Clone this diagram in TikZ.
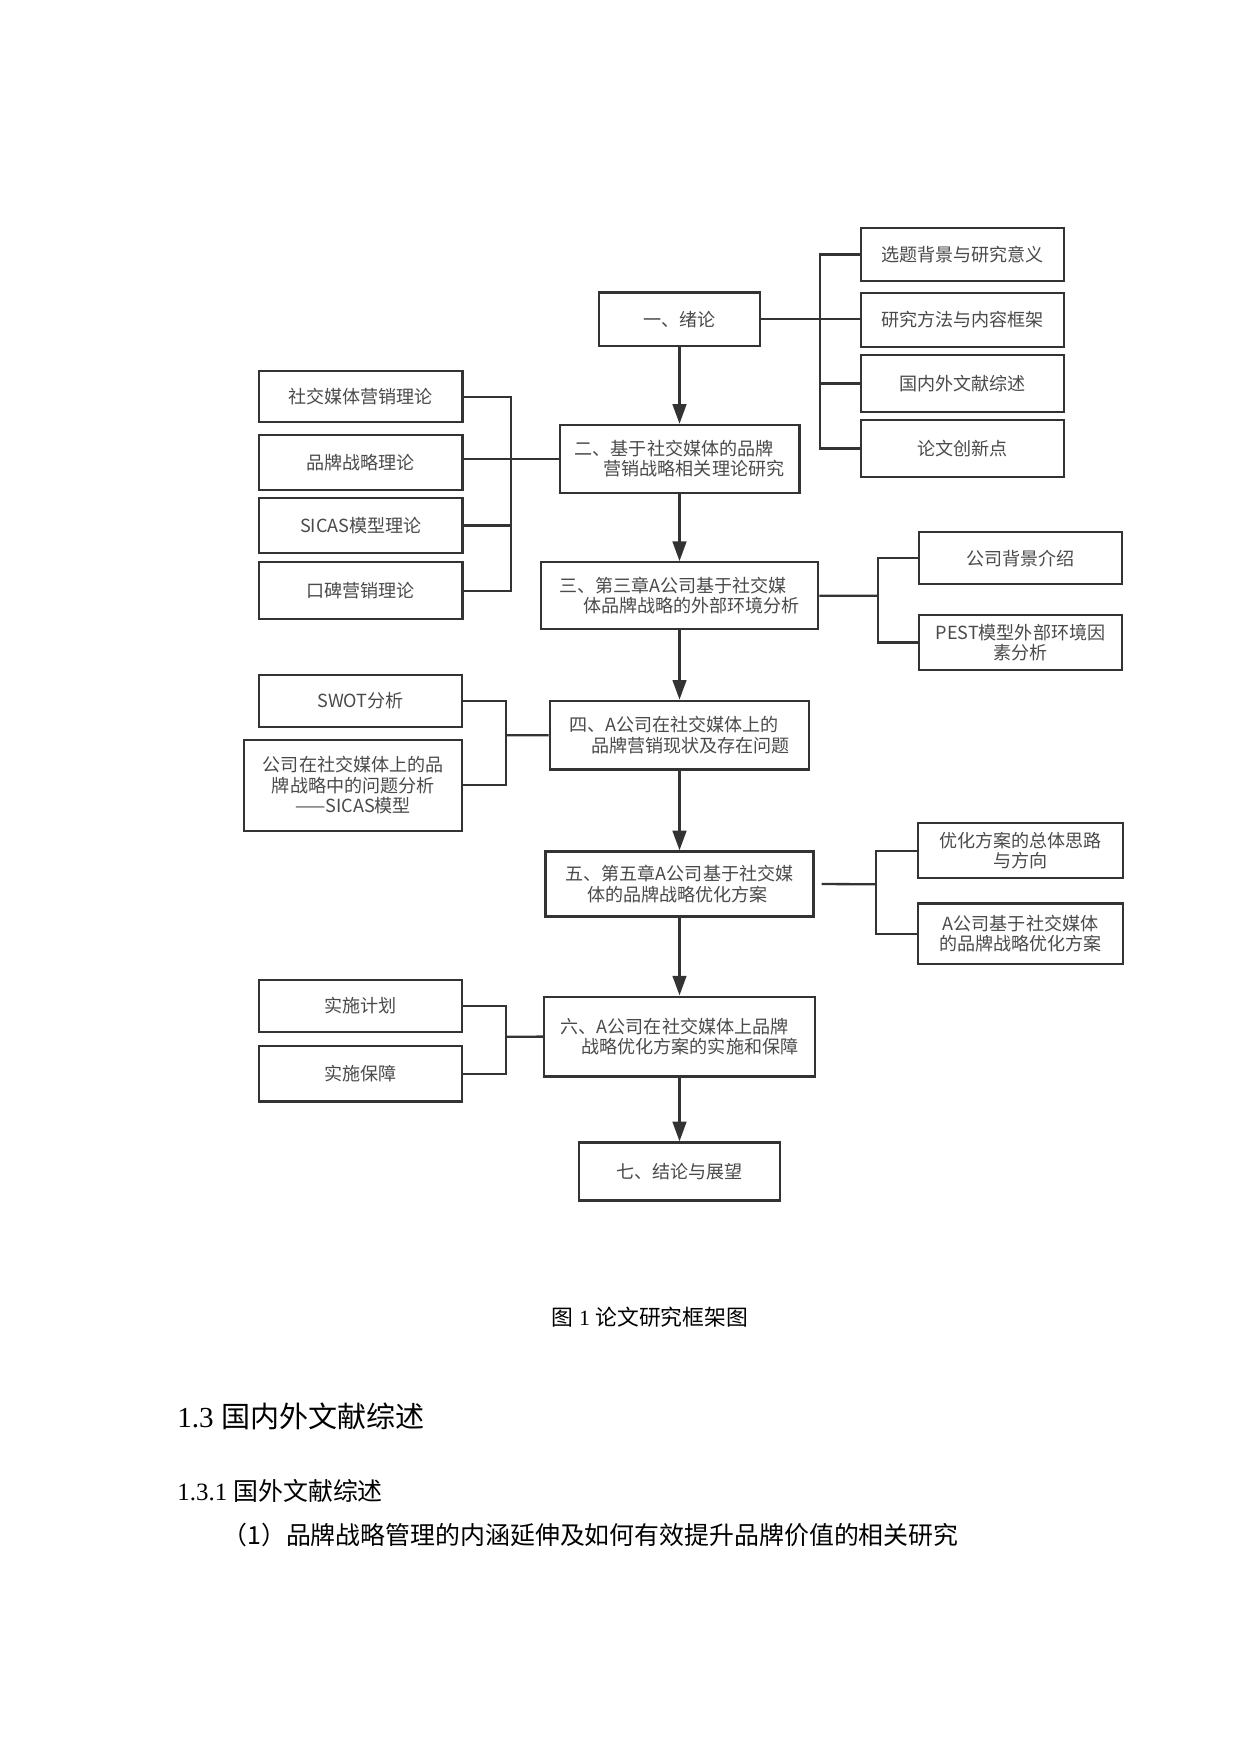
\documentclass[tikz,border=0pt]{standalone}
\usepackage{fontspec}
\setmainfont{Liberation Serif}
\newfontfamily\cjk{Noto Sans CJK SC}
\usetikzlibrary{arrows.meta}
\definecolor{boxline}{HTML}{333333}
\definecolor{boxtext}{HTML}{4A4A4A}

\begin{document}
\begin{tikzpicture}[x=0.4818pt,y=-0.4818pt,>={Triangle[length=9.5pt,width=6.5pt]},
  main box/.style={draw=boxline,line width=1.1pt,align=left,inner sep=2pt,text=boxtext,font=\cjk\fontsize{8.7pt}{9.8pt}\selectfont},
  side box/.style={main box,align=center,minimum width=97.9pt},
  link/.style={draw=boxline,line width=1.1pt},
  arrow/.style={->,color=boxline,line width=1.4pt}]
    \fill[white] (0,0) rectangle (1240,1754);
    \useasboundingbox (0,0) rectangle (1240,1754);

    \node[main box,align=center,minimum width=77.8pt,minimum height=25.7pt] (1) at (679.5,319.3) {一、绪论};
    \node[main box,minimum width=115.5pt,minimum height=32.6pt] (2) [below of = 1, node distance=67.25pt] {二、基于社交媒体的品牌\\\hspace*{1.6em}营销战略相关理论研究};
    \node[main box,minimum width=133.7pt,minimum height=32.1pt] (3) [below of = 2, node distance=65.9pt] {三、第三章A公司基于社交媒\\\hspace*{1.33em}体品牌战略的外部环境分析};
    \node[main box,minimum width=124.9pt,minimum height=33.1pt] (4) [below of = 3, node distance=67.25pt] {四、A公司在社交媒体上的\\\hspace*{1.2em}品牌营销现状及存在问题};
    \node[main box,minimum width=129.1pt,minimum height=31.3pt] (5) [below of = 4, node distance=71.7pt] {五、第五章A公司基于社交媒\\\hspace*{1.2em}体的品牌战略优化方案};
    \node[main box,minimum width=130.6pt,minimum height=38.5pt] (6) [below of = 5, node distance=73.5pt] {六、A公司在社交媒体上品牌\\\hspace*{1.15em}战略优化方案的实施和保障};
    \node[main box,align=center,minimum width=96.6pt,minimum height=27.9pt] (7) [below of = 6, node distance=65pt] {七、结论与展望};

    % right of 1
    \node[side box,minimum height=25.4pt] (1a) at (962.5,254.4) {选题背景与研究意义};
    \node[side box,minimum height=26.3pt] (1b) at (962.5,320) {研究方法与内容框架};
    \node[side box,minimum height=27.3pt] (1c) at (962.5,383.4) {国内外文献综述};
    \node[side box,minimum height=27.3pt] (1d) at (962.5,448.4) {论文创新点};
    % left of 2
    \node[side box,minimum height=24.7pt] (2a) at (360.8,396.7) {社交媒体营销理论};
    \node[side box,minimum height=26.5pt] (2b) at (360.8,462.5) {品牌战略理论};
    \node[side box,minimum height=26.8pt] (2c) at (360.8,525.5) {SICAS模型理论};
    \node[side box,minimum height=27.5pt] (2d) at (360.8,590.8) {口碑营销理论};
    % right of 3
    \node[side box,minimum height=25pt] (3a) at (1020.4,558.3) {公司背景介绍};
    \node[side box,minimum height=26.2pt] (3b) at (1020.4,642.5) {PEST模型外部环境因\\素分析};
    % left of 4
    \node[side box,minimum height=25pt] (4a) at (360.5,700.7) {SWOT分析};
    \node[side box,minimum width=105pt,minimum height=43.8pt] (4b) at (353.2,785.2) {公司在社交媒体上的品\\牌战略中的问题分析\\——SICAS模型};
    % right of 5
    \node[side box,minimum width=98.8pt,minimum height=26.5pt] (5a) at (1020.5,850.8) {优化方案的总体思路\\与方向};
    \node[side box,minimum width=98.8pt,minimum height=29.2pt] (5b) at (1020.5,933.7) {A公司基于社交媒体\\的品牌战略优化方案};
    % left of 6
    \node[side box,minimum height=24.9pt] (6a) at (360.5,1005.8) {实施计划};
    \node[side box,minimum height=26.8pt] (6b) at (360.5,1073.8) {实施保障};

    \coordinate (b1) at (820,319.3);
    \coordinate (b2) at (510.7,458.9);
    \coordinate (b3) at (878,595.7);
    \coordinate (b4) at (506.2,735.3);
    \coordinate (b5) at (876,884.2);
    \coordinate (b6) at (506,1036.7);

    \draw[link] (1.east) -- (1.east -| 1b.west);
    \draw[link] (1a.west) -| (b1) |- (1d.west);
    \draw[link] (1c.west) -- (1c.west -| b1);

    \draw[link] (2.west) -- (2.west -| 2b.east);
    \draw[link] (2a.east) -| (b2) |- (2d.east);
    \draw[link] (2c.east) -- (2c.east -| b2);

    \draw[link] (3.east) -- (b3);
    \draw[link] (3a.west) -| (b3) |- (3b.west);

    \draw[link] (4.west) -- (b4);
    \draw[link] (4a.east) -| (b4) |- (4b.east);

    \draw[link] ([xshift=3.4pt]5.east) -- (b5);
    \draw[link] (5a.west) -| (b5) |- (5b.west);

    \draw[link] (6.west) -- (b6);
    \draw[link] (6a.east) -| (b6) |- (6b.east);

    \path[arrow]
        (1) edge (2)
        (2) edge (3)
        (3) edge (4)
        (4) edge (5)
        (5) edge (6)
        (6) edge (7)
        ;

    \node[font=\fontsize{10.5pt}{13pt}\selectfont] (cap) at (650,1316.7) {{\cjk 图} 1 {\cjk 论文研究框架图}};
    \node[anchor=west,inner sep=0pt,font=\fontsize{14pt}{17pt}\selectfont] (sec) at (177,1416.7) {1.3 {\cjk 国内外文献综述}};
    \node[anchor=west,inner sep=0pt,font=\fontsize{12pt}{15pt}\selectfont] (subsec) at (177,1490.7) {1.3.1 {\cjk 国外文献综述}};
    \node[anchor=west,inner sep=0pt,font=\fontsize{12pt}{14pt}\selectfont] (item) at (222,1535) {{\cjk （1）品牌战略管理的内涵延伸及如何有效提升品牌价值的相关研究}};
\end{tikzpicture}
\end{document}
